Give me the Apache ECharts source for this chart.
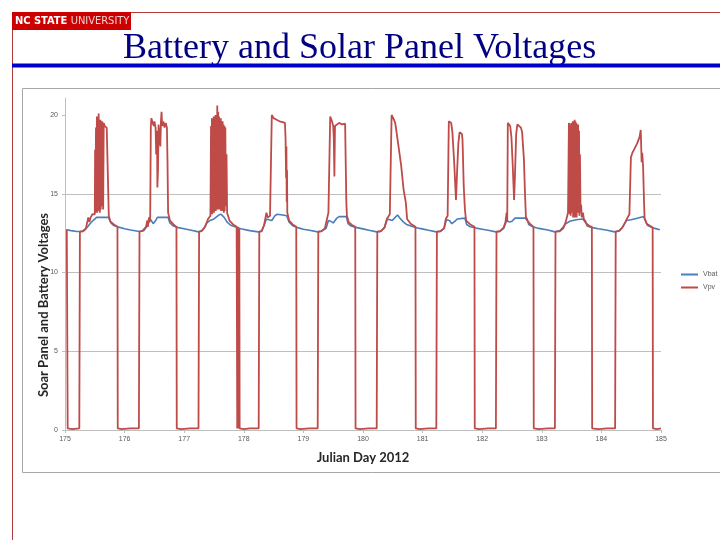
<!DOCTYPE html>
<html>
<head>
<meta charset="utf-8">
<script src="https://cdn.jsdelivr.net/npm/echarts@6/dist/echarts.min.js"></script>
<style>
  html, body { margin: 0; padding: 0; background: #fff; }
  #chart { width: 720px; height: 540px; }
</style>
</head>
<body>
<div id="chart"></div>
<script>
  // 横轴刻度 (Julian day)
  let dayTicks = [175, 176, 177, 178, 179, 180, 181, 182, 183, 184, 185]
  // 纵轴刻度
  let voltTicks = [0, 5, 10, 15, 20]

  // 蓄电池电压 [day, V]
  let vbat = [
    [175.03, 12.72], [175.1, 12.66], [175.2, 12.6], [175.28, 12.6], [175.33, 12.68], [175.38, 12.9], [175.42, 13.1],
    [175.47, 13.3], [175.53, 13.5], [175.73, 13.5], [175.77, 13.15], [175.82, 12.98], [175.9, 12.88], [176.0, 12.78],
    [176.1, 12.7], [176.25, 12.6], [176.32, 12.65], [176.37, 12.9], [176.43, 13.4], [176.48, 13.1], [176.52, 13.3],
    [176.55, 13.5], [176.73, 13.5], [176.76, 13.15], [176.82, 12.95], [176.9, 12.85], [177.0, 12.78], [177.1, 12.7],
    [177.24, 12.58], [177.28, 12.62], [177.33, 12.8], [177.38, 13.15], [177.43, 13.3], [177.5, 13.4], [177.58, 13.65],
    [177.62, 13.7], [177.67, 13.5], [177.72, 13.2], [177.78, 13.0], [177.85, 12.9], [177.95, 12.78], [178.1, 12.66],
    [178.24, 12.58], [178.3, 12.6], [178.35, 13.1], [178.38, 13.4], [178.42, 13.35], [178.47, 13.3], [178.52, 13.6],
    [178.56, 13.7], [178.65, 13.65], [178.72, 13.6], [178.76, 13.2], [178.83, 12.95], [178.9, 12.85], [179.0, 12.75],
    [179.1, 12.68], [179.24, 12.58], [179.3, 12.62], [179.38, 12.8], [179.42, 13.3], [179.46, 13.25], [179.5, 13.15],
    [179.56, 13.45], [179.6, 13.55], [179.72, 13.55], [179.75, 13.1], [179.8, 12.95], [179.9, 12.85], [180.0, 12.77],
    [180.1, 12.68], [180.23, 12.58], [180.3, 12.62], [180.36, 12.85], [180.41, 13.4], [180.45, 13.35], [180.49, 13.3],
    [180.54, 13.5], [180.58, 13.65], [180.62, 13.45], [180.68, 13.2], [180.73, 13.05], [180.84, 12.9], [180.95, 12.8],
    [181.1, 12.68], [181.23, 12.58], [181.3, 12.62], [181.36, 12.8], [181.4, 13.35], [181.45, 13.3], [181.49, 13.1],
    [181.54, 13.25], [181.58, 13.4], [181.71, 13.45], [181.74, 13.05], [181.8, 12.9], [181.9, 12.82], [182.0, 12.75],
    [182.1, 12.68], [182.23, 12.58], [182.3, 12.62], [182.36, 12.8], [182.41, 13.3], [182.46, 13.2], [182.5, 13.25],
    [182.55, 13.45], [182.75, 13.45], [182.78, 13.05], [182.85, 12.9], [182.95, 12.8], [183.1, 12.7], [183.22, 12.58],
    [183.3, 12.65], [183.35, 12.85], [183.4, 13.1], [183.47, 13.25], [183.58, 13.35], [183.68, 13.4], [183.73, 13.3],
    [183.76, 12.95], [183.85, 12.85], [183.95, 12.78], [184.1, 12.68], [184.22, 12.58], [184.3, 12.65], [184.36, 12.9],
    [184.42, 13.3], [184.5, 13.35], [184.6, 13.45], [184.71, 13.55], [184.74, 13.3], [184.77, 13.0], [184.85, 12.85],
    [184.98, 12.72]
  ]

  // 太阳能板电压 [day, V]
  let vpv = [
    // 175
    [175.03, 12.75], [175.04, 12.75], [175.045, 0.1], [175.12, 0.05], [175.24, 0.1], [175.25, 12.6], [175.3, 12.62],
    [175.35, 12.8], [175.38, 13.3], [175.39, 13.5], [175.41, 13.2], [175.43, 13.5], [175.46, 13.7], [175.49, 13.8],
    [175.5, 13.7], [175.505, 17.8], [175.51, 13.8], [175.52, 19.2], [175.525, 13.9], [175.535, 19.9], [175.54, 13.8],
    [175.55, 19.6], [175.555, 13.9], [175.565, 20.1], [175.57, 14.0], [175.58, 19.5], [175.585, 13.8], [175.595, 19.7],
    [175.6, 14.0], [175.61, 19.4], [175.615, 14.2], [175.625, 19.6], [175.635, 19.2], [175.64, 14.0], [175.65, 19.5],
    [175.665, 19.3], [175.68, 19.4], [175.7, 19.2], [175.72, 19.1], [175.735, 13.6], [175.76, 13.25], [175.82, 13.05],
    [175.88, 12.9], [175.885, 0.1], [175.95, 0.05], [176.1, 0.1], [176.24, 0.1],
    // 176
    [176.25, 12.6], [176.3, 12.65], [176.36, 12.9], [176.38, 13.3], [176.39, 12.9], [176.41, 13.5], [176.42, 13.2],
    [176.43, 13.6], [176.44, 19.3], [176.45, 19.8], [176.47, 19.5], [176.49, 19.3], [176.5, 19.6], [176.52, 19.2],
    [176.53, 17.5], [176.545, 19.0], [176.55, 15.4], [176.56, 16.5], [176.57, 19.4], [176.59, 19.5], [176.6, 18.0],
    [176.61, 19.6], [176.62, 20.2], [176.63, 19.3], [176.65, 19.6], [176.67, 19.2], [176.69, 19.5], [176.71, 19.2],
    [176.72, 17.0], [176.73, 13.8], [176.76, 13.3], [176.82, 13.05], [176.87, 12.9], [176.875, 0.1], [176.95, 0.05],
    [177.1, 0.1], [177.24, 0.1],
    // 177
    [177.25, 12.6], [177.3, 12.65], [177.35, 12.9], [177.4, 13.4], [177.44, 13.6], [177.445, 13.7], [177.45, 19.3],
    [177.455, 13.8], [177.465, 19.8], [177.47, 13.7], [177.48, 19.6], [177.485, 13.9], [177.495, 19.9], [177.5, 13.8],
    [177.51, 19.7], [177.515, 13.9], [177.525, 20.0], [177.53, 13.9], [177.54, 19.8], [177.545, 14.0], [177.555, 20.6],
    [177.56, 14.0], [177.57, 20.2], [177.575, 14.1], [177.585, 19.9], [177.59, 14.0], [177.6, 19.7], [177.605, 14.0],
    [177.615, 19.8], [177.62, 13.9], [177.63, 19.5], [177.635, 14.0], [177.645, 19.6], [177.65, 13.9], [177.66, 19.4],
    [177.665, 13.8], [177.675, 19.3], [177.68, 13.9], [177.69, 19.2], [177.7, 14.2], [177.71, 17.5], [177.72, 13.8],
    [177.76, 13.3], [177.82, 13.05], [177.88, 12.9], [177.89, 0.1], [177.9, 12.9], [177.905, 0.1], [177.915, 12.8],
    [177.92, 0.1], [177.925, 12.8], [177.93, 0.1], [178.0, 0.05], [178.1, 0.1], [178.25, 0.1],
    // 178
    [178.26, 12.6], [178.3, 12.65], [178.34, 13.0], [178.36, 13.4], [178.38, 13.8], [178.4, 13.5], [178.44, 13.6],
    [178.46, 13.7], [178.47, 20.0], [178.5, 19.8], [178.55, 19.7], [178.6, 19.6], [178.65, 19.55], [178.69, 19.5],
    [178.7, 18.6], [178.71, 16.0], [178.715, 18.0], [178.72, 14.5], [178.725, 16.5], [178.73, 13.8], [178.76, 13.3],
    [178.82, 13.05], [178.88, 12.9], [178.885, 0.1], [178.95, 0.05], [179.1, 0.1], [179.24, 0.1],
    // 179
    [179.25, 12.6], [179.3, 12.62], [179.36, 12.8], [179.39, 13.3], [179.42, 13.8], [179.45, 19.9], [179.48, 19.6],
    [179.5, 19.3], [179.51, 18.5], [179.52, 16.1], [179.53, 19.3], [179.56, 19.4], [179.6, 19.5], [179.65, 19.4],
    [179.7, 19.45], [179.71, 17.0], [179.72, 14.5], [179.73, 13.6], [179.76, 13.2], [179.82, 13.0], [179.87, 12.9],
    [179.875, 0.1], [179.95, 0.05], [180.1, 0.1], [180.23, 0.1],
    // 180
    [180.24, 12.6], [180.3, 12.62], [180.36, 12.85], [180.4, 13.4], [180.45, 13.7], [180.47, 13.8], [180.48, 20.0],
    [180.5, 19.9], [180.52, 19.7], [180.54, 19.5], [180.56, 19.0], [180.6, 17.9], [180.64, 16.8], [180.68, 15.3],
    [180.72, 14.4], [180.74, 13.4], [180.8, 13.1], [180.88, 12.9], [180.885, 0.1], [180.95, 0.05], [181.1, 0.1],
    [181.23, 0.1],
    // 181
    [181.24, 12.6], [181.3, 12.62], [181.36, 12.8], [181.39, 13.4], [181.42, 13.6], [181.44, 19.6], [181.46, 19.7],
    [181.48, 19.5], [181.5, 18.9], [181.53, 17.0], [181.56, 14.6], [181.58, 16.5], [181.6, 18.2], [181.62, 18.9],
    [181.64, 19.0], [181.66, 18.8], [181.67, 18.4], [181.69, 15.5], [181.71, 14.0], [181.73, 13.3], [181.8, 13.05],
    [181.87, 12.9], [181.875, 0.1], [181.95, 0.05], [182.1, 0.1], [182.23, 0.1],
    // 182
    [182.24, 12.6], [182.3, 12.62], [182.36, 12.85], [182.39, 13.2], [182.41, 13.8], [182.42, 13.2], [182.43, 19.5],
    [182.45, 19.6], [182.47, 19.3], [182.49, 18.6], [182.51, 17.0], [182.535, 14.6], [182.55, 16.2], [182.57, 18.8],
    [182.59, 19.4], [182.62, 19.4], [182.65, 19.2], [182.67, 18.9], [182.7, 17.2], [182.72, 14.8], [182.735, 13.4],
    [182.8, 13.1], [182.86, 12.9], [182.865, 0.1], [182.95, 0.05], [183.1, 0.1], [183.22, 0.1],
    // 183
    [183.23, 12.6], [183.3, 12.62], [183.36, 12.8], [183.4, 13.2], [183.44, 13.8], [183.45, 13.9], [183.455, 19.5],
    [183.46, 19.6], [183.465, 19.3], [183.47, 13.7], [183.48, 19.4], [183.485, 13.6], [183.495, 19.5], [183.5, 13.8],
    [183.51, 19.2], [183.52, 19.6], [183.525, 13.5], [183.535, 19.4], [183.54, 13.6], [183.55, 19.7], [183.555, 13.5],
    [183.565, 19.6], [183.57, 13.7], [183.58, 19.5], [183.585, 13.5], [183.595, 19.3], [183.6, 14.0], [183.61, 19.4],
    [183.615, 13.8], [183.625, 19.0], [183.63, 13.6], [183.64, 17.5], [183.65, 13.8], [183.66, 14.3], [183.67, 13.5],
    [183.69, 13.8], [183.71, 13.3], [183.75, 13.1], [183.8, 12.95], [183.84, 12.9], [183.845, 0.1], [183.95, 0.05],
    [184.1, 0.1], [184.23, 0.1],
    // 184
    [184.24, 12.6], [184.3, 12.65], [184.35, 12.85], [184.4, 13.2], [184.44, 13.5], [184.47, 13.7], [184.49, 13.8],
    [184.495, 17.3], [184.52, 17.6], [184.56, 17.9], [184.6, 18.2], [184.64, 18.6], [184.66, 19.05], [184.675, 17.0],
    [184.685, 17.6], [184.7, 16.7], [184.715, 14.5], [184.725, 13.4], [184.76, 13.1], [184.82, 12.95], [184.86, 12.85],
    [184.865, 0.1], [184.93, 0.05], [185.0, 0.1]
  ]

  let chart = echarts.init(document.getElementById('chart'))
  let gray = '#bfbfbf'
  let labelColor = '#595959'
  let titleFont = { fontFamily: 'Lato', fontWeight: 'bold', fontSize: 13, color: '#262626' }

  let option = {
    animation: false,
    backgroundColor: '#fff',
    grid: {
      left: 65,
      right: 59,
      top: 98,
      bottom: 110
    },
    legend: {
      orient: 'vertical',
      left: 676,
      top: 266,
      icon: 'rect',
      itemWidth: 17,
      itemHeight: 2,
      itemGap: 6,
      textStyle: { fontSize: 7, color: labelColor, fontFamily: 'Liberation Sans' },
      data: ['Vbat', 'Vpv']
    },
    xAxis: {
      type: 'value',
      min: 175,
      max: 185,
      interval: 1,
      name: 'Julian Day 2012',
      nameLocation: 'middle',
      nameGap: 21,
      nameTextStyle: titleFont,
      axisLine: { lineStyle: { color: gray } },
      axisTick: { show: true, length: 3, lineStyle: { color: gray } },
      splitLine: { show: false },
      axisLabel: {
        fontSize: 7,
        color: labelColor,
        margin: 6,
        fontFamily: 'Liberation Sans',
        formatter: function(v) {
          return dayTicks.indexOf(v) >= 0 ? String(v) : ''
        }
      }
    },
    yAxis: {
      type: 'value',
      min: 0,
      max: 21.08,
      interval: 5,
      axisLine: { show: true, lineStyle: { color: gray } },
      axisTick: { show: true, length: 3, lineStyle: { color: gray } },
      axisLabel: {
        fontSize: 7,
        color: labelColor,
        margin: 7,
        showMaxLabel: false,
        fontFamily: 'Liberation Sans',
        formatter: function(v) {
          return voltTicks.indexOf(v) >= 0 ? String(v) : ''
        }
      },
      splitLine: {
        show: true,
        showMaxLine: false,
        lineStyle: { color: [gray, gray, gray, gray, 'rgba(0,0,0,0)'], width: 1 }
      }
    },
    series: [
      {
        name: 'Vbat',
        type: 'line',
        data: vbat,
        showSymbol: false,
        z: 2,
        color: '#4a7ebb',
        lineStyle: { width: 1.6, color: '#4a7ebb' }
      },
      {
        name: 'Vpv',
        type: 'line',
        data: vpv,
        showSymbol: false,
        z: 3,
        color: '#be4b48',
        lineStyle: { width: 1.8, color: '#be4b48' }
      }
    ],
    graphic: [
      // 外框
      { type: 'rect', shape: { x: 22.5, y: 88.5, width: 700, height: 384 }, style: { fill: 'none', stroke: '#a6a6a6', lineWidth: 1 }, z: -1 },
      // 左侧红线
      { type: 'line', shape: { x1: 12.5, y1: 12, x2: 12.5, y2: 540 }, style: { stroke: '#b03a3a', lineWidth: 1 } },
      // 顶部红线
      { type: 'line', shape: { x1: 12, y1: 12.5, x2: 720, y2: 12.5 }, style: { stroke: '#b03a3a', lineWidth: 1 } },
      // 校徽
      { type: 'rect', shape: { x: 12, y: 12, width: 119, height: 18 }, style: { fill: '#cc0000' } },
      {
        type: 'text',
        left: 15,
        top: 15,
        style: {
          text: '{b|NC STATE} {r|UNIVERSITY}',
          rich: {
            b: { fontFamily: 'Liberation Sans Narrow, DejaVu Sans Condensed, Liberation Sans', fontWeight: 'bold', fontSize: 11, fill: '#fff' },
            r: { fontFamily: 'Liberation Sans Narrow, DejaVu Sans Condensed, Liberation Sans', fontSize: 11, fill: '#f2d0d0' }
          }
        }
      },
      // 标题
      {
        type: 'text',
        x: 123,
        y: 49,
        style: {
          text: 'Battery and Solar Panel Voltages',
          fontFamily: 'Liberation Serif',
          fontSize: 36,
          fill: '#000080',
          align: 'left',
          verticalAlign: 'middle'
        }
      },
      // 纵轴标题
      {
        type: 'text',
        x: 44,
        y: 305,
        rotation: Math.PI / 2,
        style: {
          text: 'Soar Panel and Battery Voltages',
          fontFamily: 'Lato',
          fontWeight: 'bold',
          fontSize: 13,
          fill: '#262626',
          align: 'center',
          verticalAlign: 'middle'
        }
      },
      // 蓝色横条
      { type: 'rect', shape: { x: 12, y: 63.5, width: 708, height: 4 }, style: { fill: '#0000cc' } }
    ]
  }

  chart.setOption(option, true)
</script>
</body>
</html>
